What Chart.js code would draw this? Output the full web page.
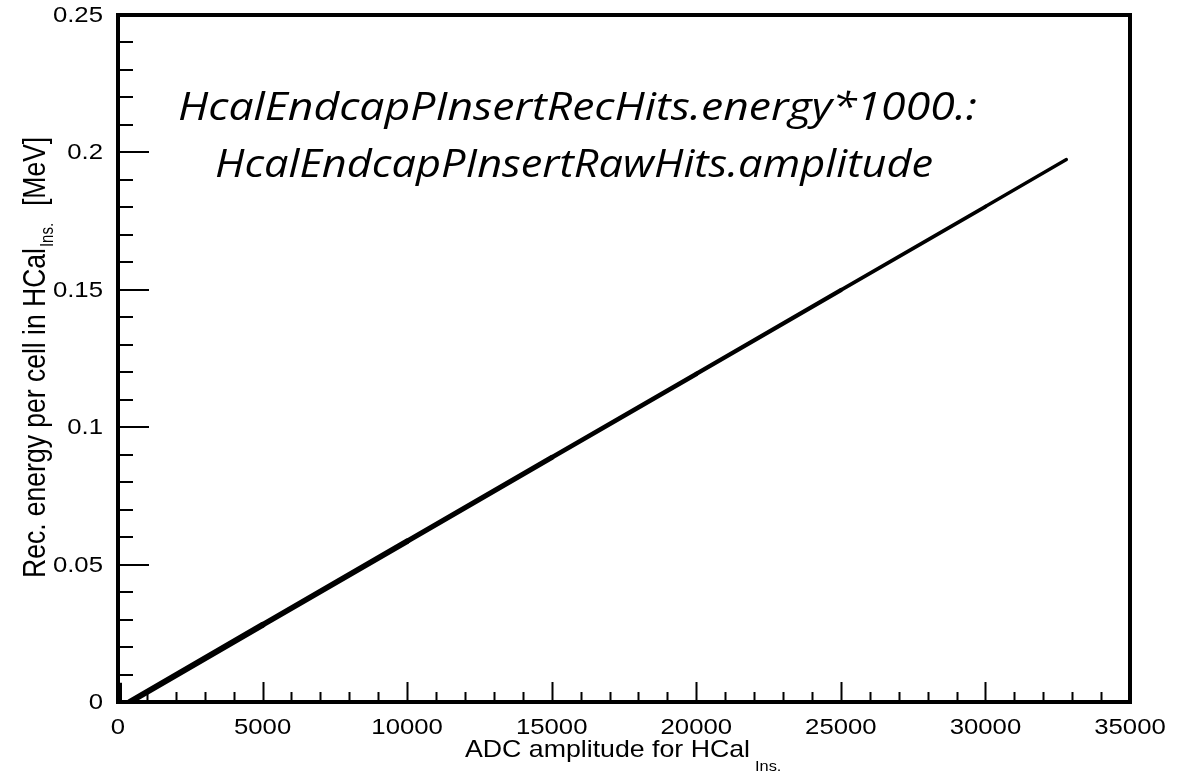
<!DOCTYPE html>
<html>
<head>
<meta charset="utf-8">
<title>HCal insert: reconstructed energy vs ADC amplitude</title>
<script src="https://cdn.jsdelivr.net/npm/chart.js@4.4.1/dist/chart.umd.min.js"></script>
<style>
  html, body { margin: 0; padding: 0; background: #ffffff; }
  #wrap { width: 1194px; height: 773px; position: relative; }
</style>
</head>
<body>
<div id="wrap"><canvas id="c" width="1194" height="773"></canvas></div>
<script>
// Rec. energy (MeV) against ADC amplitude, points along the calibration band
const adcAmplitude = [400, 5000, 10000, 15000, 20000, 25000, 30000, 32800];
const recEnergy    = [0.0, 0.0281, 0.0585, 0.0890, 0.1194, 0.1499, 0.1803, 0.1974];

// small cluster of hits at very low amplitude
const lowAdc    = [70, 70];
const lowEnergy = [0.0, 0.007];

// axis ticks
const xTickValues = [0, 5000, 10000, 15000, 20000, 25000, 30000, 35000];
const xTickLabels = ['0', '5000', '10000', '15000', '20000', '25000', '30000', '35000'];
const yTickValues = [0, 0.05, 0.1, 0.15, 0.2, 0.25];
const yTickLabels = ['0', '0.05', '0.1', '0.15', '0.2', '0.25'];

const titleLines = ['HcalEndcapPInsertRecHits.energy*1000.:', 'HcalEndcapPInsertRawHits.amplitude'];
const xTitle = 'ADC amplitude for HCal';
const yTitle = 'Rec. energy per cell in HCal';
const subLabel = 'Ins.';
const yUnit = '[MeV]';

const ARIAL = '"Liberation Sans", Arial, sans-serif';
const SX = 1.17; // horizontal widening of axis text

function toPoints(xs, ys) { return xs.map((v, i) => ({ x: v, y: ys[i] })); }

// draw text widened horizontally by factor sx
function wideText(ctx, text, x, y, font, align, baseline, sx) {
  ctx.save();
  ctx.font = font;
  ctx.textBaseline = baseline;
  const w = ctx.measureText(text).width * sx;
  let x0 = x;
  if (align === 'center') x0 = x - w / 2;
  else if (align === 'right') x0 = x - w;
  ctx.translate(x0, y);
  ctx.scale(sx, 1);
  ctx.textAlign = 'left';
  ctx.fillText(text, 0, 0);
  ctx.restore();
}

// draw text stretched to an exact width, starting at x
function fitText(ctx, text, x, y, width, font) {
  ctx.save();
  ctx.font = font;
  ctx.textBaseline = 'alphabetic';
  const w = ctx.measureText(text).width;
  ctx.translate(x, y);
  ctx.scale(width / w, 1);
  ctx.textAlign = 'left';
  ctx.fillText(text, 0, 0);
  ctx.restore();
}

const rootFrame = {
  id: 'rootFrame',
  afterDraw(chart) {
    const { ctx, chartArea: a, scales: { x, y } } = chart;
    ctx.save();
    ctx.fillStyle = '#000';
    ctx.strokeStyle = '#000';

    // inward ticks on x
    ctx.lineWidth = 2;
    ctx.beginPath();
    for (let v = 0; v <= 35000; v += 1000) {
      const px = Math.round(x.getPixelForValue(v)) + 0.5;
      const len = (v % 5000 === 0) ? 20 : 10;
      ctx.moveTo(px, a.bottom);
      ctx.lineTo(px, a.bottom - len);
    }
    // inward ticks on y
    for (let k = 0; k <= 25; k++) {
      const py = Math.round(y.getPixelForValue(k * 0.01));
      const len = (k % 5 === 0) ? 31 : 15;
      ctx.moveTo(a.left, py);
      ctx.lineTo(a.left + len, py);
    }
    ctx.stroke();

    // frame
    ctx.lineWidth = 4;
    ctx.strokeRect(a.left, a.top, a.right - a.left, a.bottom - a.top);

    // tick labels
    xTickValues.forEach((v, i) => {
      wideText(ctx, xTickLabels[i], x.getPixelForValue(v), a.bottom + 32, '22px ' + ARIAL, 'center', 'alphabetic', SX);
    });
    yTickValues.forEach((v, i) => {
      wideText(ctx, yTickLabels[i], a.left - 15, y.getPixelForValue(v) + 1, '22px ' + ARIAL, 'right', 'middle', SX);
    });

    // x axis title with subscript
    fitText(ctx, xTitle, 465, 757, 285, '24px ' + ARIAL);
    wideText(ctx, subLabel, 755, 771, '14px ' + ARIAL, 'left', 'alphabetic', SX);

    // y axis title (rotated), glyph height widened
    ctx.save();
    ctx.translate(45, 578);
    ctx.rotate(-Math.PI / 2);
    ctx.scale(1, SX);
    ctx.font = '26.5px ' + ARIAL;
    ctx.textAlign = 'left';
    ctx.textBaseline = 'alphabetic';
    ctx.fillText(yTitle, 0, 0);
    const mainW = ctx.measureText(yTitle).width;
    ctx.font = '15px ' + ARIAL;
    ctx.fillText(subLabel, mainW + 1, 7);
    ctx.restore();
    ctx.save();
    ctx.translate(45, 206);
    ctx.rotate(-Math.PI / 2);
    ctx.scale(1, SX);
    ctx.font = '26.5px ' + ARIAL;
    ctx.textAlign = 'left';
    ctx.fillText(yUnit, 0, 0);
    ctx.restore();

    // expression title inside the frame
    const tf = 'italic 38px "Open Sans", "Noto Sans", sans-serif';
    fitText(ctx, titleLines[0], 178, 120, 799, tf);
    fitText(ctx, titleLines[1], 215, 177, 718, tf);

    ctx.restore();
  }
};

new Chart(document.getElementById('c'), {
  type: 'scatter',
  data: {
    datasets: [
      {
        data: toPoints(adcAmplitude, recEnergy),
        showLine: true,
        borderColor: '#000',
        backgroundColor: '#000',
        borderCapStyle: 'round',
        borderJoinStyle: 'round',
        pointRadius: 0,
        borderWidth: 4,
        segment: { borderWidth: c => 6 - c.p0DataIndex * 0.45 }
      },
      {
        data: toPoints(lowAdc, lowEnergy),
        showLine: true,
        borderColor: '#000',
        pointRadius: 0,
        borderWidth: 4
      }
    ]
  },
  options: {
    responsive: false,
    animation: false,
    events: [],
    layout: { padding: { left: 118, top: 15, right: 64, bottom: 71 } },
    plugins: { legend: { display: false }, tooltip: { enabled: false } },
    scales: {
      x: { type: 'linear', display: false, min: 0, max: 35000 },
      y: { type: 'linear', display: false, min: 0, max: 0.25 }
    }
  },
  plugins: [rootFrame]
});
</script>
</body>
</html>
